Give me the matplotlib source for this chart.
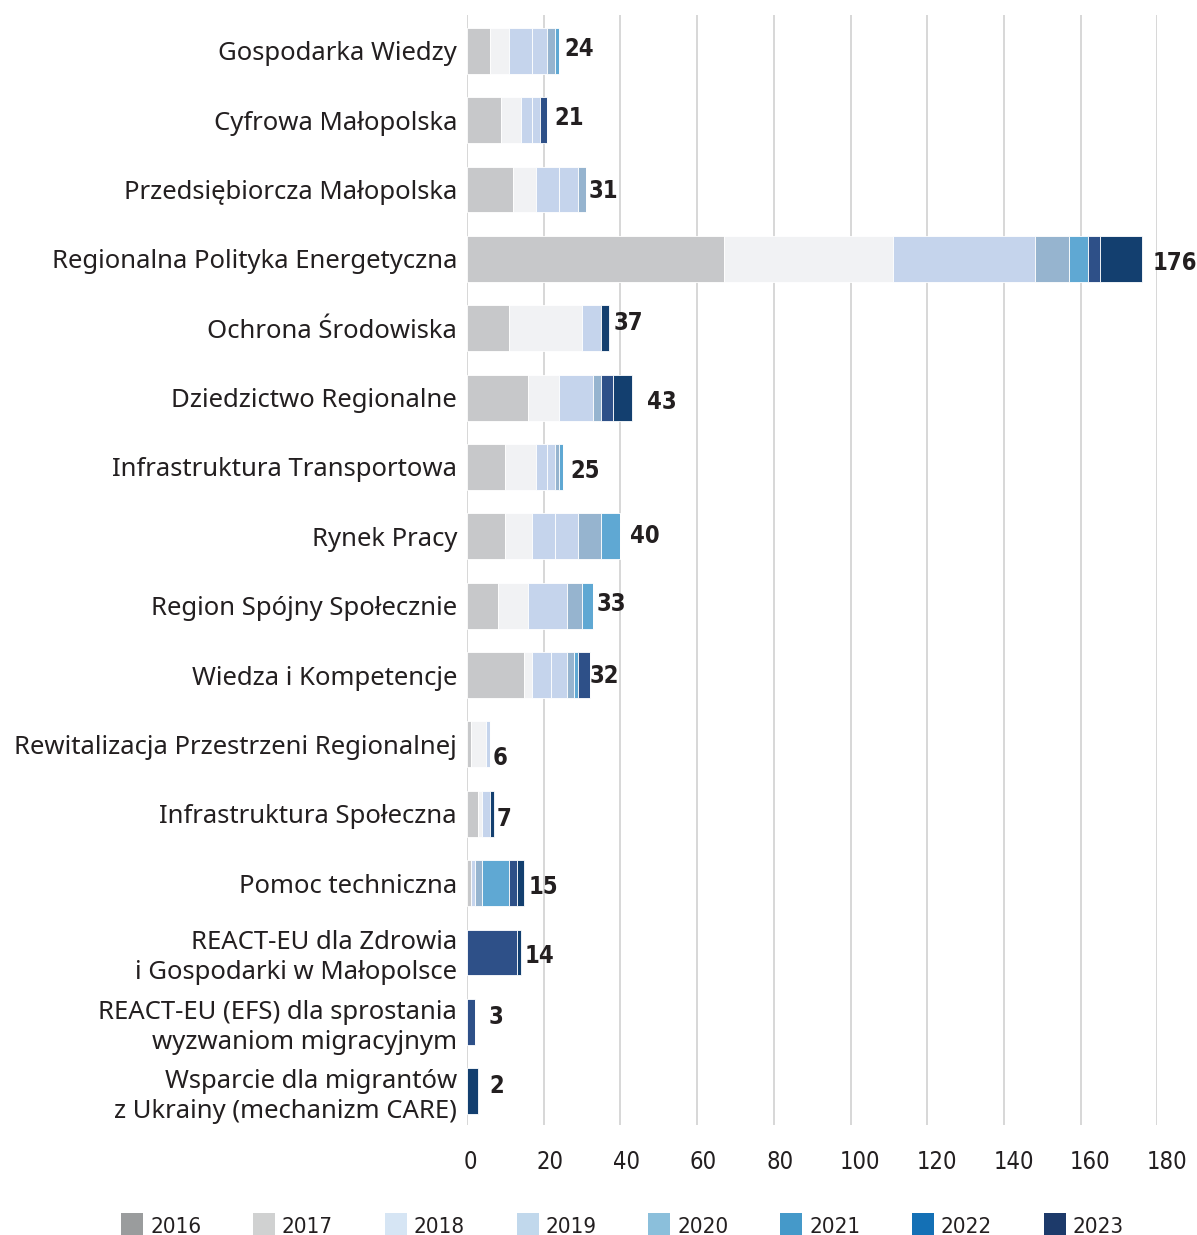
import matplotlib
matplotlib.use("Agg")
import matplotlib.pyplot as plt
import matplotlib.transforms as mtransforms
from matplotlib.patches import Patch
import numpy as np

# ---------------- data ----------------
categories = [
    "Gospodarka Wiedzy",
    "Cyfrowa Małopolska",
    "Przedsiębiorcza Małopolska",
    "Regionalna Polityka Energetyczna",
    "Ochrona Środowiska",
    "Dziedzictwo Regionalne",
    "Infrastruktura Transportowa",
    "Rynek Pracy",
    "Region Spójny Społecznie",
    "Wiedza i Kompetencje",
    "Rewitalizacja Przestrzeni Regionalnej",
    "Infrastruktura Społeczna",
    "Pomoc techniczna",
    "REACT-EU dla Zdrowia\ni Gospodarki w Małopolsce",
    "REACT-EU (EFS) dla sprostania\nwyzwaniom migracyjnym",
    "Wsparcie dla migrantów\nz Ukrainy (mechanizm CARE)",
]
years = ["2016", "2017", "2018", "2019", "2020", "2021", "2022", "2023"]

v2016 = [6, 9, 12, 67, 11, 16, 10, 10, 8, 15, 1, 3, 1, 0, 0, 0]
v2017 = [5, 5, 6, 44, 19, 8, 8, 7, 8, 2, 4, 1, 0, 0, 0, 0]
v2018 = [6, 3, 6, 37, 5, 9, 3, 6, 10, 5, 1, 2, 1, 0, 0, 0]
v2019 = [4, 2, 5, 0, 0, 0, 2, 6, 0, 4, 0, 0, 0, 0, 0, 0]
v2020 = [2, 0, 2, 9, 0, 2, 1, 6, 4, 2, 0, 0, 2, 0, 0, 0]
v2021 = [1, 0, 0, 5, 0, 0, 1, 5, 3, 1, 0, 0, 7, 0, 0, 0]
v2022 = [0, 2, 0, 3, 0, 3, 0, 0, 0, 3, 0, 0, 2, 13, 2, 0]
v2023 = [0, 0, 0, 11, 2, 5, 0, 0, 0, 0, 0, 1, 2, 1, 0, 3]

totals = [24, 21, 31, 176, 37, 43, 25, 40, 33, 32, 6, 7, 15, 14, 3, 2]

series = [v2016, v2017, v2018, v2019, v2020, v2021, v2022, v2023]

bar_colors = ['#c7c8ca', '#f1f2f4', '#c5d4ec', '#c5d4ec',
              '#96b4cf', '#5fa8d3', '#2e5088', '#133f6f']
legend_colors = ['#9a9c9d', '#d0d1d1', '#d6e5f4', '#c1d8ec',
                 '#8bbfdb', '#4599c9', '#1470b5', '#1d3a6a']

# label nudges (pixels) as they sit in the original
lab_dx = [4, 6, 1, 9, 3, 14, 6, 8, 2, -1, 1, 2, 3, 3, 13, 10]
lab_dy = [-2, -2, 1, 4, -5, 4, 4, 0, -2, 1, 14, 5, 4, 4, -5, -5]

plt.rcParams['font.family'] = ['Noto Sans', 'DejaVu Sans']
num_font = dict(family=['DejaVu Sans'], stretch='condensed')

fig = plt.figure(figsize=(11.97, 12.35), dpi=100)
ax = fig.add_axes([0.390, 0.089, 0.577, 0.899])

y = np.arange(len(categories))
left = np.zeros(len(categories))
for vals, col in zip(series, bar_colors):
    vals = np.array(vals, dtype=float)
    ax.barh(y, vals, left=left, height=0.66, color=col,
            edgecolor='white', linewidth=0.6, zorder=3)
    left += vals

px = 0.72  # points per pixel at dpi 100
for i, t in enumerate(totals):
    ax.annotate(str(t), xy=(left[i], y[i]),
                xytext=(1 + lab_dx[i] * px, -lab_dy[i] * px),
                textcoords='offset points', ha='left', va='center',
                fontsize=17, fontweight='bold', color='#231f20',
                zorder=4, **num_font)

ax.set_xlim(0, 180)
ax.set_ylim(15.49, -0.52)
ax.set_xticks(np.arange(0, 181, 20))
ax.set_yticks(y)
ax.set_yticklabels(categories, fontsize=18.5, color='#231f20',
                   linespacing=1.25)
ax.tick_params(axis='both', length=0)
ax.tick_params(axis='y', pad=7)
ax.tick_params(axis='x', pad=18)
for lab in ax.get_xticklabels():
    lab.set_family(num_font['family'])
    lab.set_stretch('condensed')
    lab.set_fontsize(17)
    lab.set_color('#231f20')
    # the original's numbers sit a little right of their gridlines
    shift = 3.2 * len(lab.get_text()) / 100
    lab.set_transform(lab.get_transform() +
                      mtransforms.ScaledTranslation(shift, 0, fig.dpi_scale_trans))

ax.grid(axis='x', color='#d4d4d4', linewidth=1.3, zorder=0)
ax.set_axisbelow(True)
for s in ax.spines.values():
    s.set_visible(False)

handles = [Patch(facecolor=c, edgecolor='none') for c in legend_colors]
leg = fig.legend(handles, years, loc='lower center', ncol=8,
                 bbox_to_anchor=(0.52, -0.018), frameon=False,
                 handlelength=1.0, handleheight=1.3, handletextpad=0.3,
                 columnspacing=2.33,
                 prop={'family': num_font['family'], 'stretch': 'condensed',
                       'size': 16})
for txt in leg.get_texts():
    txt.set_color('#231f20')

fig.savefig('out.png', dpi=100)
